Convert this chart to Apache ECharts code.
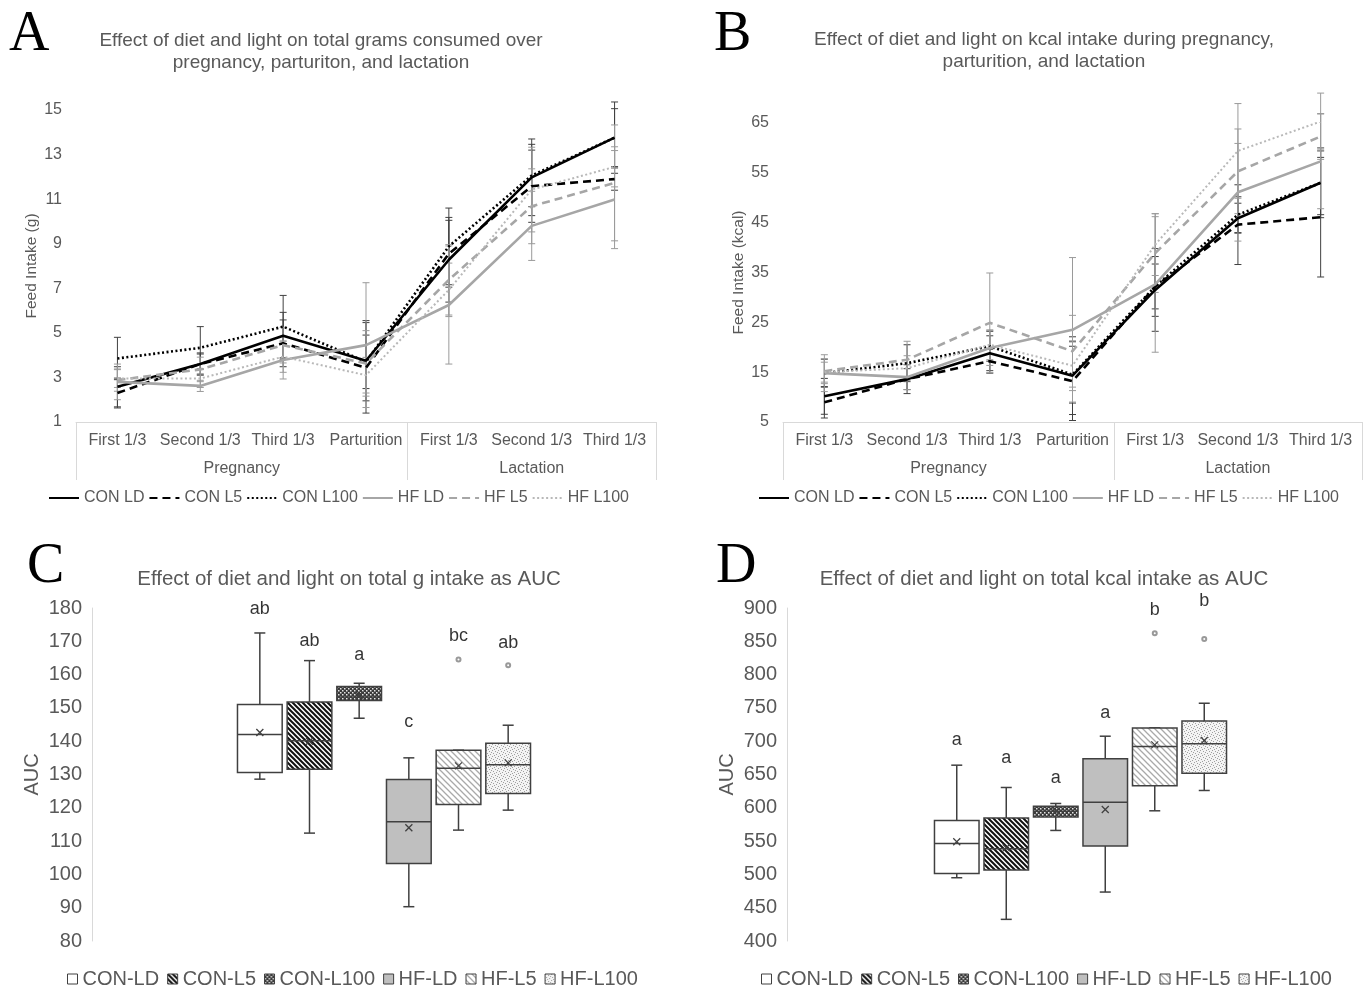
<!DOCTYPE html>
<html><head><meta charset="utf-8">
<script src="https://cdn.jsdelivr.net/npm/echarts@6/dist/echarts.min.js"></script>
<style>html,body{margin:0;padding:0;background:#fff}#c{width:1363px;height:988px}</style>
</head><body><div id="c"></div>
<script>
// ---------- DATA ----------
const periods = ['First 1/3','Second 1/3','Third 1/3','Parturition','First 1/3','Second 1/3','Third 1/3'];
const phaseNames = ['Pregnancy','Lactation'];
const phaseStart = [0, 4];
const phaseEnd = [3, 6];
const lineNames = ['CON LD','CON L5','CON L100','HF LD','HF L5','HF L100'];

// Panel A: feed intake (g), means
const gramsConLD   = [2.58, 3.60, 4.87, 3.75, 8.28, 11.98, 13.76];
const gramsConL5   = [2.30, 3.60, 4.53, 3.43, 8.55, 11.58, 11.90];
const gramsConL100 = [3.85, 4.33, 5.28, 3.70, 8.88, 12.06, 13.76];
const gramsHfLD    = [2.80, 2.62, 3.78, 4.45, 6.25, 9.80, 10.98];
const gramsHfL5    = [2.88, 3.36, 4.45, 3.63, 7.38, 10.68, 11.73];
const gramsHfL100  = [2.95, 2.95, 3.93, 3.10, 6.93, 11.43, 12.45];
// Panel A: error bar half-lengths
const gramsErrConLD   = [0.90, 0.50, 1.05, 1.80, 1.90, 1.72, 1.60];
const gramsErrConL5   = [0.67, 0.45, 1.05, 2.03, 1.50, 1.62, 0.50];
const gramsErrConL100 = [0.95, 0.95, 1.40, 1.20, 1.72, 1.40, 1.30];
const gramsErrHfLD    = [0.80, 0.25, 0.85, 2.80, 2.65, 1.55, 2.20];
const gramsErrHfL5    = [0.50, 0.55, 0.80, 1.47, 1.58, 1.68, 2.60];
const gramsErrHfL100  = [0.40, 0.40, 0.70, 0.80, 1.20, 1.90, 0.90];
const gramsTicks = [1, 3, 5, 7, 9, 11, 13, 15];

// Panel B: feed intake (kcal), means
const kcalConLD   = [10.15, 13.6, 18.8, 14.3, 31.5, 45.9, 53.0];
const kcalConL5   = [8.95, 13.6, 17.2, 13.2, 32.2, 44.6, 46.1];
const kcalConL100 = [14.8, 16.8, 20.2, 14.5, 32.2, 46.6, 53.0];
const kcalHfLD    = [14.8, 14.0, 19.85, 23.5, 32.6, 51.1, 57.3];
const kcalHfL5    = [15.2, 17.5, 24.9, 19.2, 38.9, 55.3, 62.3];
const kcalHfL100  = [15.0, 15.8, 20.5, 16.3, 40.6, 59.4, 65.3];
// Panel B: error bar half-lengths
const kcalErrConLD   = [3.6, 2.9, 3.5, 7.8, 8.3, 3.0, 7.0];
const kcalErrConL5   = [3.15, 2.1, 2.4, 7.9, 4.5, 8.0, 12.0];
const kcalErrConL100 = [2.8, 3.7, 3.0, 5.7, 6.0, 3.6, 6.4];
const kcalErrHfLD    = [3.7, 2.5, 3.5, 14.5, 13.6, 9.8, 9.5];
const kcalErrHfL5    = [2.5, 3.7, 10.0, 7.2, 7.9, 8.5, 4.6];
const kcalErrHfL100  = [2.0, 2.5, 3.0, 5.0, 6.2, 9.5, 5.7];
const kcalTicks = [5, 15, 25, 35, 45, 55, 65];

// Panels C & D: groups
const aucGroups = ['CON-LD','CON-L5','CON-L100','HF-LD','HF-L5','HF-L100'];

// Panel C: grams AUC box stats
const gAucMin  = [128.6, 112.4, 146.9, 90.3, 113.3, 119.3];
const gAucQ1   = [130.6, 131.6, 152.2, 103.3, 121.0, 124.3];
const gAucMed  = [142.0, 140.1, 153.3, 115.8, 131.9, 132.9];
const gAucQ3   = [151.0, 151.8, 156.4, 128.5, 137.3, 139.4];
const gAucMax  = [172.5, 164.2, 157.4, 135.0, 137.3, 144.8];
const gAucMean = [142.6, 140.0, 153.8, 114.0, 132.6, 133.5];
const gAucOutlier = [null, null, null, null, 164.5, 162.8];
const gAucLetters = ['ab','ab','a','c','bc','ab'];
const gAucLetterY = [179.6, 170.0, 166.0, 145.8, 171.6, 169.5];

// Panel D: kcal AUC box stats
const kAucMin  = [495.0, 432.5, 566.0, 473.5, 595.5, 626.0];
const kAucQ1   = [501.5, 506.5, 586.0, 542.5, 633.0, 652.0];
const kAucMed  = [546.5, 538.5, 595.0, 608.5, 692.0, 696.0];
const kAucQ3   = [581.0, 584.5, 602.5, 673.5, 720.0, 730.5];
const kAucMax  = [664.0, 630.5, 606.5, 707.5, 720.0, 757.0];
const kAucMean = [549.0, 540.0, 595.0, 597.5, 694.5, 701.0];
const kAucOutlier = [null, null, null, null, 862.0, 853.5];
const kAucLetters = ['a','a','a','a','b','b'];
const kAucLetterY = [702, 674.5, 644.5, 743, 897, 910];

// ---------- STYLE ----------
const FONT = '"Liberation Sans", Arial, sans-serif';
const SERIF = '"Liberation Serif", "Times New Roman", serif';
const TXT = '#595959';
const AXL = '#d9d9d9';
const lineColors = ['#000000','#000000','#000000','#a6a6a6','#a6a6a6','#b8b8b8'];
const lineTypes = ['solid',[8,5],[2,2.5],'solid',[8,5],[2,2.5]];
const lineWidths = [2.6, 2.6, 2.6, 2.6, 2.6, 2];
const errColors = ['#404040','#404040','#404040','#9a9a9a','#9a9a9a','#9a9a9a'];

function mkPattern(w, h, draw) {
  const c = document.createElement('canvas');
  c.width = w; c.height = h;
  const ctx = c.getContext('2d');
  draw(ctx, w, h);
  return {image: c, repeat: 'repeat'};
}
function stripes(s, color, lw) {
  return mkPattern(s, s, (ctx, w, h) => {
    ctx.fillStyle = '#fff'; ctx.fillRect(0, 0, w, h);
    ctx.strokeStyle = color; ctx.lineWidth = lw;
    ctx.beginPath();
    ctx.moveTo(-2, -2); ctx.lineTo(s + 2, s + 2);
    ctx.moveTo(s - 2, -2); ctx.lineTo(s + 2, 2);
    ctx.moveTo(-2, s - 2); ctx.lineTo(2, s + 2);
    ctx.stroke();
  });
}
const boxFills = [
  '#ffffff',
  stripes(5, '#111', 2.0),
  mkPattern(4, 4, (ctx) => {
    ctx.fillStyle = '#3a3a3a'; ctx.fillRect(0, 0, 4, 4);
    ctx.fillStyle = '#e6e6e6'; ctx.fillRect(0, 0, 1.5, 1.5); ctx.fillRect(2, 2, 1.5, 1.5);
  }),
  '#bfbfbf',
  stripes(6, '#a9a9a9', 1.3),
  mkPattern(6, 6, (ctx) => {
    ctx.fillStyle = '#f4f4f4'; ctx.fillRect(0, 0, 6, 6);
    ctx.fillStyle = '#a0a0a0';
    ctx.fillRect(0, 0, 1, 1); ctx.fillRect(3, 1, 1, 1); ctx.fillRect(1, 3, 1, 1);
    ctx.fillRect(4, 4, 1, 1); ctx.fillRect(5, 2, 1, 1); ctx.fillRect(2, 5, 1, 1);
  })
];

// ---------- BUILDERS ----------
function errRender(color) {
  return function (params, api) {
    const x = api.value(0);
    const p1 = api.coord([x, api.value(2)]);
    const p2 = api.coord([x, api.value(1)]);
    const w = 3.5;
    const st = {stroke: color, lineWidth: 1};
    return {type: 'group', children: [
      {type: 'line', shape: {x1: p1[0], y1: p1[1], x2: p2[0], y2: p2[1]}, style: st},
      {type: 'line', shape: {x1: p1[0] - w, y1: p1[1], x2: p1[0] + w, y2: p1[1]}, style: st},
      {type: 'line', shape: {x1: p2[0] - w, y1: p2[1], x2: p2[0] + w, y2: p2[1]}, style: st}
    ]};
  };
}
function linePanelSeries(xIdx, yIdx, means, errs) {
  const out = [];
  means.forEach((m, k) => {
    out.push({type: 'custom', name: lineNames[k] + ' err', xAxisIndex: xIdx, yAxisIndex: yIdx,
      z: 1, silent: true, clip: false, renderItem: errRender(errColors[k]),
      encode: {x: 0, y: [1, 2]},
      data: m.map((v, i) => [i, v - errs[k][i], v + errs[k][i]])});
  });
  means.forEach((m, k) => {
    out.push({type: 'line', name: lineNames[k], xAxisIndex: xIdx, yAxisIndex: yIdx, z: 3,
      symbol: 'none', silent: true,
      lineStyle: {color: lineColors[k], width: lineWidths[k], type: lineTypes[k]},
      itemStyle: {color: lineColors[k]}, data: m});
  });
  return out;
}
function boxRender(fill) {
  return function (params, api) {
    const x = api.value(0);
    const cx = api.coord([x, api.value(3)])[0];
    const y = (i) => api.coord([x, api.value(i)])[1];
    const yMin = y(1), yQ1 = y(2), yMd = y(3), yQ3 = y(4), yMax = y(5), yMean = y(6);
    const bw = api.size([1, 0])[0] * 0.9;
    const st = {stroke: '#404040', lineWidth: 1.5};
    const cap = 5.5, xs = 3.5;
    return {type: 'group', children: [
      {type: 'line', shape: {x1: cx, y1: yMax, x2: cx, y2: yQ3}, style: st},
      {type: 'line', shape: {x1: cx, y1: yQ1, x2: cx, y2: yMin}, style: st},
      {type: 'line', shape: {x1: cx - cap, y1: yMax, x2: cx + cap, y2: yMax}, style: st},
      {type: 'line', shape: {x1: cx - cap, y1: yMin, x2: cx + cap, y2: yMin}, style: st},
      {type: 'rect', shape: {x: cx - bw / 2, y: yQ3, width: bw, height: yQ1 - yQ3},
        style: {fill: fill, stroke: '#404040', lineWidth: 1.5}},
      {type: 'line', shape: {x1: cx - bw / 2, y1: yMd, x2: cx + bw / 2, y2: yMd}, style: st},
      {type: 'line', shape: {x1: cx - xs, y1: yMean - xs, x2: cx + xs, y2: yMean + xs}, style: {stroke: '#404040', lineWidth: 1.3}},
      {type: 'line', shape: {x1: cx - xs, y1: yMean + xs, x2: cx + xs, y2: yMean - xs}, style: {stroke: '#404040', lineWidth: 1.3}}
    ]};
  };
}
function boxPanelSeries(xIdx, yIdx, mn, q1, md, q3, mx, mean, outl, letters, letterY) {
  const out = [];
  aucGroups.forEach((g, i) => {
    out.push({type: 'custom', name: g, xAxisIndex: xIdx, yAxisIndex: yIdx, z: 2, silent: true,
      itemStyle: {color: boxFills[i]}, renderItem: boxRender(boxFills[i]),
      encode: {x: 0, y: [1, 2, 3, 4, 5, 6]},
      data: [[i, mn[i], q1[i], md[i], q3[i], mx[i], mean[i]]]});
  });
  out.push({type: 'scatter', name: 'outliers', xAxisIndex: xIdx, yAxisIndex: yIdx, z: 3, silent: true,
    symbol: 'emptyCircle', symbolSize: 4, clip: false,
    itemStyle: {color: '#7f7f7f', borderColor: '#7f7f7f', borderWidth: 1},
    data: outl.map((v, i) => v == null ? null : [i, v]).filter(Boolean)});
  out.push({type: 'scatter', name: 'letters', xAxisIndex: xIdx, yAxisIndex: yIdx, z: 4, silent: true,
    symbolSize: 0, clip: false,
    label: {show: true, position: 'inside', formatter: (p) => letters[p.dataIndex],
      fontSize: 18, color: '#000', fontFamily: FONT, textBorderWidth: 0},
    data: letterY.map((v, i) => [i, v])});
  return out;
}
function catAxis(gi) {
  return {type: 'category', gridIndex: gi, data: periods, boundaryGap: true,
    axisLine: {show: true, lineStyle: {color: AXL, width: 1}},
    axisTick: {show: false}, splitLine: {show: false},
    axisLabel: {interval: 0, fontSize: 16, color: TXT, fontFamily: FONT, margin: 11}};
}
function phaseAxis(gi) {
  const bounds = [phaseStart[0] - 0.5];
  phaseEnd.forEach(e => bounds.push(e + 0.5));
  const centers = phaseStart.map((s, i) => (s + phaseEnd[i]) / 2);
  return {type: 'value', gridIndex: gi, position: 'bottom', min: -0.5, max: periods.length - 0.5,
    axisLine: {show: false}, splitLine: {show: false},
    axisTick: {show: true, customValues: bounds, length: 58, inside: false, lineStyle: {color: AXL, width: 1}},
    axisLabel: {show: true, customValues: centers, margin: 39, fontSize: 16, color: TXT, fontFamily: FONT,
      formatter: (v) => { const i = centers.indexOf(v); return i >= 0 ? phaseNames[i] : ''; }}};
}
function lineYAxis(gi, min, max, ticks, name) {
  return {type: 'value', gridIndex: gi, min: min, max: max,
    axisLine: {show: false}, axisTick: {show: false}, splitLine: {show: false},
    axisLabel: {customValues: ticks, fontSize: 16, color: TXT, fontFamily: FONT, margin: 14},
    name: name, nameLocation: 'middle', nameGap: 36,
    nameTextStyle: {fontSize: 15.5, color: TXT, fontFamily: FONT}};
}
function boxYAxis(gi, min, max, interval, offset) {
  return {type: 'value', gridIndex: gi, min: min, max: max, interval: interval, offset: offset,
    axisLine: {show: true, lineStyle: {color: AXL, width: 1}}, axisTick: {show: false}, splitLine: {show: false},
    axisLabel: {fontSize: 20, color: TXT, fontFamily: FONT, margin: 10},
    name: 'AUC', nameLocation: 'middle', nameGap: 50,
    nameTextStyle: {fontSize: 20, color: TXT, fontFamily: FONT}};
}
function titleAt(text, x, y, size) {
  return {text: text, left: x, top: y, textAlign: 'center', padding: 0,
    textStyle: {fontSize: size, fontWeight: 'normal', color: TXT, fontFamily: FONT, lineHeight: 22}};
}
function letterAt(text, x, y) {
  return {text: text, left: x, top: y, padding: 0,
    textStyle: {fontSize: 56, fontWeight: 'normal', color: '#000', fontFamily: SERIF, lineHeight: 56}};
}
function lineLegend(x) {
  return {left: x, top: 485, itemWidth: 30, itemHeight: 14, itemGap: 4, selectedMode: false,
    itemStyle: {opacity: 0},
    data: lineNames, textStyle: {fontSize: 16, color: TXT, fontFamily: FONT}};
}
function boxLegend(x) {
  return {left: x, top: 964, itemWidth: 10, itemHeight: 10, itemGap: 8, selectedMode: false,
    data: aucGroups.map((g, i) => ({name: g, icon: 'rect',
      itemStyle: {color: boxFills[i], borderColor: '#404040', borderWidth: 1}})),
    textStyle: {fontSize: 20, color: TXT, fontFamily: FONT}};
}

const gramsMeans = [gramsConLD, gramsConL5, gramsConL100, gramsHfLD, gramsHfL5, gramsHfL100];
const gramsErrs = [gramsErrConLD, gramsErrConL5, gramsErrConL100, gramsErrHfLD, gramsErrHfL5, gramsErrHfL100];
const kcalMeans = [kcalConLD, kcalConL5, kcalConL100, kcalHfLD, kcalHfL5, kcalHfL100];
const kcalErrs = [kcalErrConLD, kcalErrConL5, kcalErrConL100, kcalErrHfLD, kcalErrHfL5, kcalErrHfL100];

const option = {
  animation: false,
  backgroundColor: '#ffffff',
  textStyle: {fontFamily: FONT},
  title: [
    letterAt('A', 9, 7), letterAt('B', 714, 7), letterAt('C', 27, 539), letterAt('D', 716, 539),
    titleAt('Effect of diet and light on total grams consumed over\npregnancy, parturiton, and lactation', 321, 30, 19),
    titleAt('Effect of diet and light on kcal intake during pregnancy,\nparturition, and lactation', 1044, 29, 19),
    titleAt('Effect of diet and light on total g intake as AUC', 349, 568, 20.5),
    titleAt('Effect of diet and light on total kcal intake as AUC', 1044, 568, 20.5)
  ],
  legend: [lineLegend(43), lineLegend(753), boxLegend(62), boxLegend(756)],
  grid: [
    {left: 76, top: 110, width: 580, height: 312, outerBoundsMode: 'none'},
    {left: 783, top: 123, width: 579, height: 299, outerBoundsMode: 'none'},
    {left: 235, top: 608, width: 298, height: 333, outerBoundsMode: 'none'},
    {left: 932, top: 608, width: 297, height: 333, outerBoundsMode: 'none'}
  ],
  xAxis: [
    catAxis(0), phaseAxis(0), catAxis(1), phaseAxis(1),
    {type: 'category', gridIndex: 2, data: aucGroups, show: false},
    {type: 'category', gridIndex: 3, data: aucGroups, show: false}
  ],
  yAxis: [
    lineYAxis(0, 1, 15, gramsTicks, 'Feed Intake (g)'),
    lineYAxis(1, 5, 65, kcalTicks, 'Feed Intake (kcal)'),
    boxYAxis(2, 80, 180, 10, 143),
    boxYAxis(3, 400, 900, 50, 145)
  ],
  series: [].concat(
    linePanelSeries(0, 0, gramsMeans, gramsErrs),
    linePanelSeries(2, 1, kcalMeans, kcalErrs),
    boxPanelSeries(4, 2, gAucMin, gAucQ1, gAucMed, gAucQ3, gAucMax, gAucMean, gAucOutlier, gAucLetters, gAucLetterY),
    boxPanelSeries(5, 3, kAucMin, kAucQ1, kAucMed, kAucQ3, kAucMax, kAucMean, kAucOutlier, kAucLetters, kAucLetterY)
  )
};
const chart = echarts.init(document.getElementById('c'), null, {renderer: 'canvas'});
chart.setOption(option);
</script>
</body></html>
